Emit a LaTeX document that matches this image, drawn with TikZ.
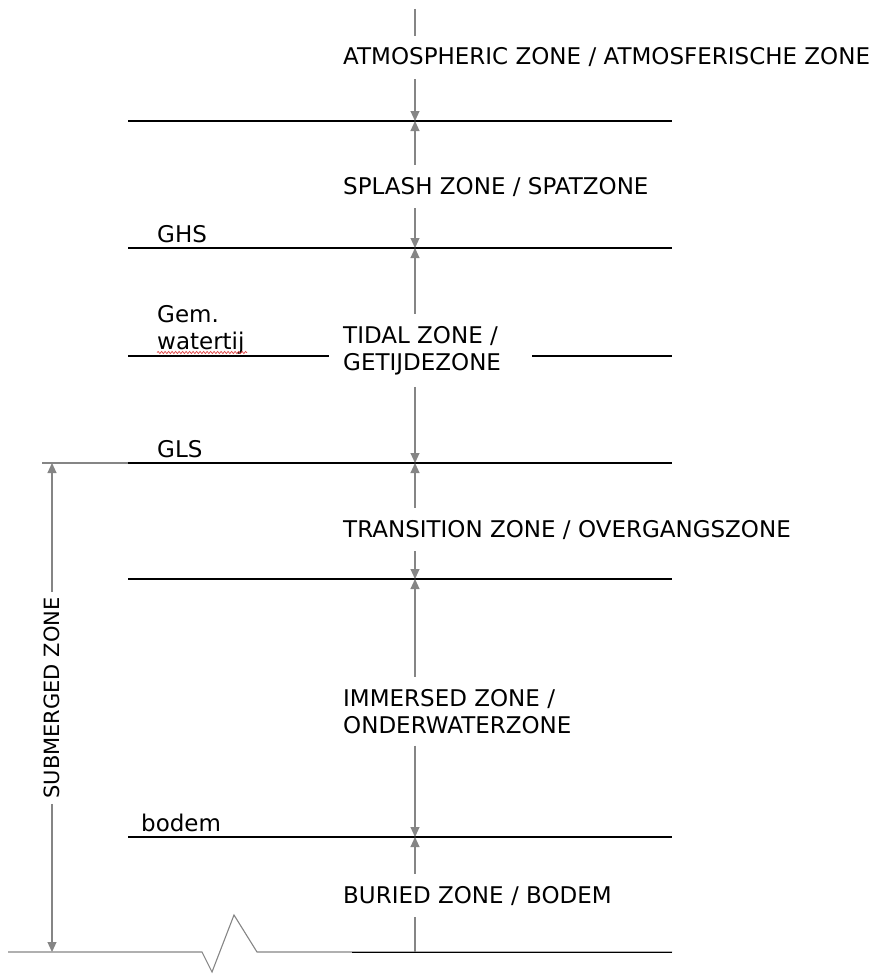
\documentclass[tikz,border=0pt]{standalone}
\usepackage{fontspec}
\setmainfont{DejaVu Sans}
\usetikzlibrary{positioning,arrows.meta,calc,decorations.pathmorphing}
\definecolor{dimgray}{HTML}{858585}
\definecolor{spellred}{HTML}{E04040}
\newcommand{\zonefont}{\fontsize{23}{27}\selectfont}

\begin{document}
\begin{tikzpicture}[x=1pt,y=-1pt,
    zone/.style={anchor=base west, inner xsep=0pt, inner ysep=12pt, align=left, font=\zonefont},
    lvl/.style={anchor=base west, inner sep=0pt, align=left, font=\zonefont},
    dim/.style={draw=dimgray, line width=1.1pt, -{Triangle[width=9pt,length=10pt]}},
    lvlline/.style={line width=1.3pt}]
    \useasboundingbox (0,0) rectangle (883,974);
    \coordinate (ax) at (415,0);
    % levels: full lines
    \foreach \n/\y in {top/121, ghs/248, gls/463, trs/579, bod/837}{
      \draw[lvlline] (128,\y) -- (672,\y);
      \coordinate (lv-\n) at (415,\y);
    }
    \coordinate (lv-ground) at (415,952);
    % zone labels (multi-line ones sit on their last line)
    \node[zone] (atmo) at (343,65) {ATMOSPHERIC ZONE / ATMOSFERISCHE ZONE};
    \node[zone] (splash) at (343,194) {SPLASH ZONE / SPATZONE};
    \node[zone] (tidal) at (343,370) {TIDAL ZONE /\\GETIJDEZONE};
    \node[zone] (trans) at (343,537) {TRANSITION ZONE / OVERGANGSZONE};
    \node[zone] (imm) at (343,733) {IMMERSED ZONE /\\ONDERWATERZONE};
    \node[zone] (buried) at (343,903) {BURIED ZONE / BODEM};
    % tidal line, broken round its label
    \draw[lvlline] (128,356) -- (329,356);
    \draw[lvlline] (532,356) -- (672,356);
    % level names
    \node[lvl] (ghslab) at (157,242) {GHS};
    \node[lvl] (gem) at (157,349) {Gem.\\watertij};
    \node[lvl] (glslab) at (157,457) {GLS};
    \node[lvl] (bodlab) at (141,831) {bodem};
    \draw[spellred, line width=0.7pt, decorate,
      decoration={snake, amplitude=1.1pt, segment length=3.5pt}] (157,352.5) -- (247,352.5);
    % vertical arrows
    \draw[draw=dimgray, line width=1.1pt] (415,9) -- (atmo.north -| ax);
    \draw[dim] (atmo.south -| ax) -- (lv-top);
    \draw[dim] (splash.north -| ax) -- (lv-top);
    \draw[dim] (splash.south -| ax) -- (lv-ghs);
    \draw[dim] (tidal.north -| ax) -- (lv-ghs);
    \draw[dim] (tidal.south -| ax) -- (lv-gls);
    \draw[dim] (trans.north -| ax) -- (lv-gls);
    \draw[dim] (trans.south -| ax) -- (lv-trs);
    \draw[dim] (imm.north -| ax) -- (lv-trs);
    \draw[dim] (imm.south -| ax) -- (lv-bod);
    \draw[dim] (buried.north -| ax) -- (lv-bod);
    \draw[draw=dimgray, line width=1.1pt] (buried.south -| ax) -- (lv-ground);
    % submerged zone
    \node[rotate=90, font=\fontsize{21}{25}\selectfont, inner sep=5pt] (sub) at (52,698) {SUBMERGED ZONE};
    \coordinate (subtop) at (52,463);
    \coordinate (subbot) at (52,952);
    \draw[draw=dimgray, line width=1.1pt] (42,463) -- (128,463);
    \draw[dim] (sub.east) -- (subtop);
    \draw[dim] (sub.west) -- (subbot);
    % ground with break mark
    \draw[draw=dimgray, line width=1.1pt] (8,952) -- (202,952) -- (212,972)
      -- (234,915) -- (257,952) -- (672,952);
    \draw[line width=0.6pt] (352,952) -- (672,952);
\end{tikzpicture}
\end{document}
